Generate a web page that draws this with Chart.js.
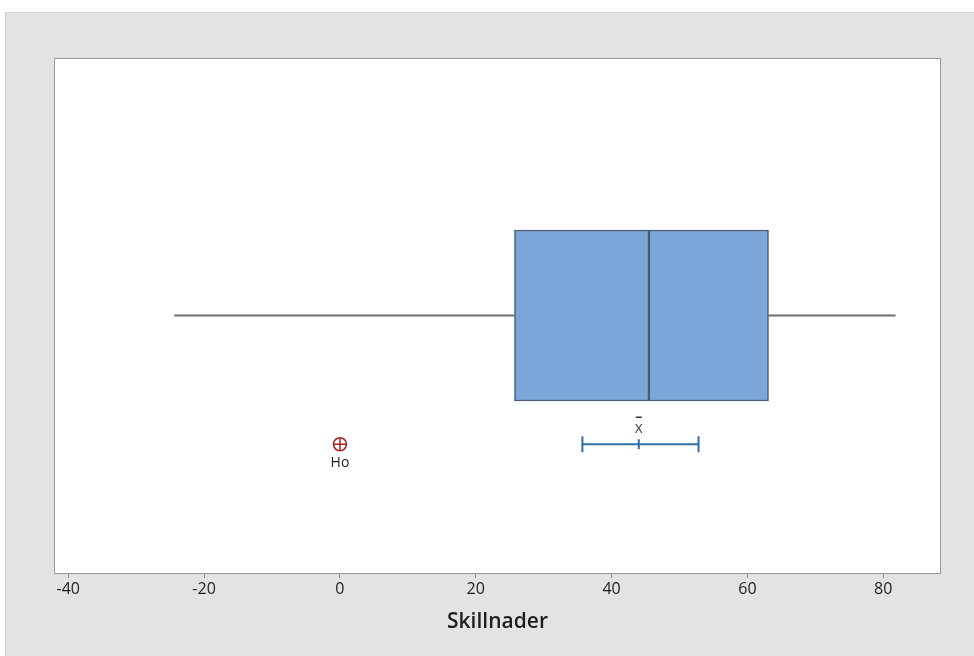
<!DOCTYPE html>
<html>
<head>
<meta charset="utf-8">
<script src="https://cdn.jsdelivr.net/npm/chart.js@4/dist/chart.umd.min.js"></script>
<style>
  html, body { margin: 0; padding: 0; background: #ffffff; }
  #wrap { width: 974px; height: 656px; }
</style>
</head>
<body>
<div id="wrap"><canvas id="c" width="974" height="656"></canvas></div>
<script>
// Differences (Skillnader): box plot summary, mean with confidence interval, null hypothesis value
const axisTitle = 'Skillnader';
const tickValues = [-40, -20, 0, 20, 40, 60, 80];
const whiskerLow = -24.4;
const quartile1 = 25.7;
const median = 45.5;
const quartile3 = 63.1;
const whiskerHigh = 81.8;
const meanValue = 44.0;
const ciLow = 35.7;
const ciHigh = 52.8;
const h0Value = 0;
const h0Label = 'Ho';
const meanLabel = 'X';

// vertical rows on a hidden 0..4 scale
const boxRow = 2;
const ciRow = 1;

const FONT = "'Open Sans', 'Noto Sans', 'DejaVu Sans', sans-serif";

const frame = {
  id: 'frame',
  beforeDraw(chart) {
    const { ctx, chartArea: a } = chart;
    ctx.save();
    ctx.fillStyle = '#ffffff';
    ctx.fillRect(0, 0, chart.width, chart.height);
    ctx.fillStyle = '#e3e3e3';
    ctx.fillRect(5, 12, chart.width - 5, chart.height - 12);
    ctx.strokeStyle = '#d2d2d2';
    ctx.lineWidth = 1;
    ctx.beginPath();
    ctx.moveTo(5, 12.5); ctx.lineTo(chart.width, 12.5);
    ctx.moveTo(5.5, 12); ctx.lineTo(5.5, chart.height);
    ctx.stroke();
    ctx.fillStyle = '#ffffff';
    ctx.fillRect(a.left, a.top, a.right - a.left, a.bottom - a.top);
    ctx.restore();
  },
  afterDraw(chart) {
    const { ctx, chartArea: a, scales } = chart;
    ctx.save();
    ctx.strokeStyle = '#9a9a9a';
    ctx.lineWidth = 1;
    ctx.strokeRect(a.left + 0.5, a.top + 0.5, a.right - a.left - 1, a.bottom - a.top);
    // labels for the mean and hypothesised value
    const x = scales.x, y = scales.y;
    ctx.fillStyle = '#333333';
    ctx.font = '13px ' + FONT;
    ctx.textAlign = 'center';
    ctx.textBaseline = 'middle';
    const mx = x.getPixelForValue(meanValue);
    const my = y.getPixelForValue(ciRow);
    ctx.fillText(meanLabel, mx, my - 15);
    ctx.strokeStyle = '#333333';
    ctx.lineWidth = 1.5;
    ctx.beginPath();
    ctx.moveTo(mx - 3, my - 27); ctx.lineTo(mx + 3, my - 27);
    ctx.stroke();
    ctx.fillStyle = '#1e1e1e';
    ctx.font = '14px ' + FONT;
    ctx.fillText(h0Label, x.getPixelForValue(h0Value), y.getPixelForValue(ciRow) + 19);
    ctx.restore();
  }
};

new Chart(document.getElementById('c'), {
  data: {
    datasets: [
      {
        type: 'line',
        data: [{ x: whiskerLow, y: boxRow }, { x: quartile1, y: boxRow }],
        borderColor: '#6f6f6f', borderWidth: 2, pointRadius: 0
      },
      {
        type: 'line',
        data: [{ x: quartile3, y: boxRow }, { x: whiskerHigh, y: boxRow }],
        borderColor: '#6f6f6f', borderWidth: 2, pointRadius: 0
      },
      {
        type: 'bar',
        indexAxis: 'y',
        data: [{ x: [quartile1, median], y: boxRow }, { x: [median, quartile3], y: boxRow }],
        backgroundColor: '#7ba6d9',
        borderColor: '#4a5870',
        borderWidth: 1.5,
        borderSkipped: false,
        barThickness: 171
      },
      {
        type: 'line',
        data: [{ x: ciLow, y: ciRow }, { x: ciHigh, y: ciRow }],
        borderColor: '#2d6fa6', borderWidth: 2,
        pointStyle: 'line', rotation: 90, pointRadius: 8,
        pointBorderColor: '#2d6fa6', pointBorderWidth: 2
      },
      {
        type: 'scatter',
        data: [{ x: meanValue, y: ciRow }],
        pointStyle: 'line', rotation: 90, pointRadius: 5,
        pointBorderColor: '#2d6fa6', pointBorderWidth: 2
      },
      {
        type: 'scatter',
        data: [{ x: h0Value, y: ciRow }],
        pointStyle: 'circle', pointRadius: 6.5,
        pointBackgroundColor: 'rgba(0,0,0,0)',
        pointBorderColor: '#a82222', pointBorderWidth: 1.5
      },
      {
        type: 'scatter',
        data: [{ x: h0Value, y: ciRow }],
        pointStyle: 'cross', pointRadius: 6.5,
        pointBorderColor: '#a82222', pointBorderWidth: 1.5
      }
    ]
  },
  options: {
    responsive: false,
    animation: false,
    devicePixelRatio: 1,
    layout: { padding: { left: 54, right: 33, top: 58, bottom: 0 } },
    plugins: { legend: { display: false }, tooltip: { enabled: false } },
    scales: {
      x: {
        type: 'linear',
        position: 'bottom',
        min: -42.1,
        max: 88.5,
        offset: false,
        afterBuildTicks(scale) { scale.ticks = tickValues.map(v => ({ value: v })); },
        afterFit(scale) { scale.height = 83; },
        ticks: {
          color: '#1e1e1e',
          font: { family: FONT, size: 16 },
          padding: 2,
          maxRotation: 0,
          callback: v => String(v)
        },
        grid: { display: true, drawOnChartArea: false, drawTicks: true, tickLength: 5, color: '#8c8c8c', offset: false },
        border: { display: false },
        title: {
          display: true,
          text: axisTitle,
          color: '#1e1e1e',
          font: { family: FONT, size: 21, weight: '600' },
          padding: { top: 0, bottom: 21 }
        }
      },
      y: {
        type: 'linear',
        display: false,
        offset: false,
        min: 0,
        max: 4
      }
    }
  },
  plugins: [frame]
});
</script>
</body>
</html>
